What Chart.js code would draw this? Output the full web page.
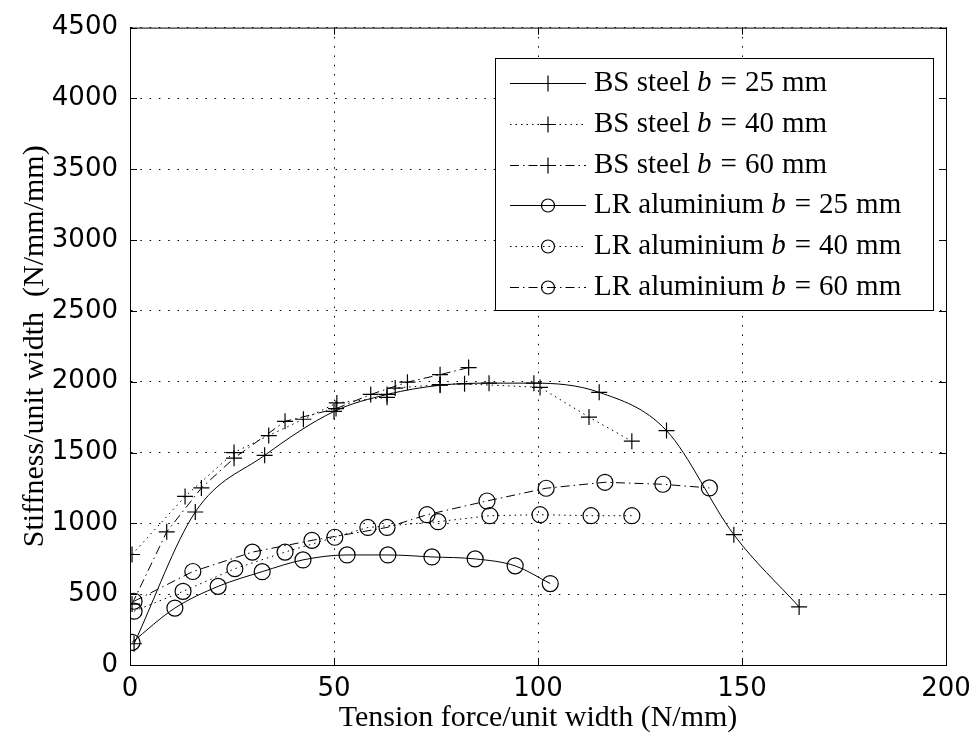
<!DOCTYPE html>
<html>
<head>
<meta charset="utf-8">
<script src="https://cdn.jsdelivr.net/npm/chart.js@4/dist/chart.umd.min.js"></script>
<style>
body { margin: 0; background: #ffffff; }
#wrap { width: 980px; height: 748px; }
</style>
</head>
<body>
<div id="wrap"><canvas id="stiffnessChart" width="980" height="748"></canvas></div>
<script>
// x = tension force per unit width (N/mm), y = stiffness per unit width (N/mm/mm)
const BS25_X = [1, 16, 33, 50, 63, 76, 88, 99, 115, 131.5, 148, 164];
const BS25_Y = [150, 1080, 1480, 1790, 1910, 1975, 1990, 1990, 1925, 1655, 920, 410];

const BS40_X = [0.5, 13.5, 25.5, 34, 42.5, 50.7, 63, 65, 76, 82, 100.5, 112.5, 123];
const BS40_Y = [780, 1190, 1500, 1620, 1735, 1850, 1890, 1955, 1980, 1985, 1960, 1750, 1580];

const BS60_X = [0.5, 9, 17.5, 25.5, 38, 50.5, 59, 68, 76, 83];
const BS60_Y = [430, 940, 1250, 1460, 1720, 1810, 1910, 1997, 2050, 2100];

const LR25_X = [0.5, 11, 21.6, 32.4, 42.4, 53.2, 63.2, 74, 84.6, 94.4, 103];
const LR25_Y = [160, 402, 555, 659, 742, 777, 777, 763, 749, 700, 575];

const LR40_X = [1, 13, 25.7, 38, 50.2, 58.3, 75.5, 88.2, 100.5, 113, 123];
const LR40_Y = [380, 520, 680, 797, 902, 971, 1012, 1054, 1061, 1054, 1054];

const LR60_X = [1, 15.4, 30, 44.6, 63, 72.8, 87.5, 102, 116.4, 130.6, 142];
const LR60_Y = [450, 660, 797, 880, 971, 1061, 1158, 1248, 1290, 1276, 1250];

const X_TICKS = [0, 50, 100, 150, 200];
const Y_TICKS = [0, 500, 1000, 1500, 2000, 2500, 3000, 3500, 4000, 4500];

const LEGEND_NAMES = ["BS steel", "BS steel", "BS steel", "LR aluminium", "LR aluminium", "LR aluminium"];
const LEGEND_WIDTHS = ["25", "40", "60", "25", "40", "60"];

const SOLID = [];
const DOTTED = [1.5, 4];
const DASHDOT = [9, 4, 1.5, 4];

function toPoints(xs, ys)
{
    return xs.map((x, i) => ({ x: x, y: ys[i] }));
}

function makeSet(label, xs, ys, marker, dash, smooth)
{
    return {
        label: label,
        data: toPoints(xs, ys),
        borderColor: '#000000',
        backgroundColor: 'rgba(0,0,0,0)',
        borderWidth: 1,
        borderDash: dash,
        pointStyle: marker,
        pointRadius: 8,
        pointBorderWidth: 1.2,
        pointBorderColor: '#000000',
        pointBackgroundColor: 'rgba(0,0,0,0)',
        cubicInterpolationMode: smooth ? 'monotone' : 'default',
        tension: 0,
        fill: false
    };
}

const datasets = [
    makeSet("BS steel b = 25 mm", BS25_X, BS25_Y, 'cross', SOLID, true),
    makeSet("BS steel b = 40 mm", BS40_X, BS40_Y, 'cross', DOTTED, false),
    makeSet("BS steel b = 60 mm", BS60_X, BS60_Y, 'cross', DASHDOT, false),
    makeSet("LR aluminium b = 25 mm", LR25_X, LR25_Y, 'circle', SOLID, true),
    makeSet("LR aluminium b = 40 mm", LR40_X, LR40_Y, 'circle', DOTTED, false),
    makeSet("LR aluminium b = 60 mm", LR60_X, LR60_Y, 'circle', DASHDOT, false)
];

const whiteBackground = {
    id: 'whiteBackground',
    beforeDraw(chart)
    {
        const ctx = chart.ctx;
        ctx.save();
        ctx.fillStyle = '#ffffff';
        ctx.fillRect(0, 0, chart.width, chart.height);
        ctx.restore();
    }
};

// solid box round the plot with inward ticks on all four sides
const boxAndTicks = {
    id: 'boxAndTicks',
    beforeDatasetsDraw(chart)
    {
        const ctx = chart.ctx;
        const a = chart.chartArea;
        const xs = chart.scales.x;
        const ys = chart.scales.y;
        const len = 7;
        ctx.save();
        ctx.strokeStyle = '#000000';
        ctx.lineWidth = 1;
        ctx.setLineDash([]);
        ctx.strokeRect(a.left + 0.5, a.top + 0.5, a.right - a.left, a.bottom - a.top);
        ctx.beginPath();
        for (const t of X_TICKS)
        {
            const px = Math.round(xs.getPixelForValue(t)) + 0.5;
            ctx.moveTo(px, a.bottom);
            ctx.lineTo(px, a.bottom - len);
            ctx.moveTo(px, a.top);
            ctx.lineTo(px, a.top + len);
        }
        for (const t of Y_TICKS)
        {
            const py = Math.round(ys.getPixelForValue(t)) + 0.5;
            ctx.moveTo(a.left, py);
            ctx.lineTo(a.left + len, py);
            ctx.moveTo(a.right, py);
            ctx.lineTo(a.right - len, py);
        }
        ctx.stroke();
        ctx.restore();
    }
};

// legend box in the top right of the plot, with an italic b
const innerLegend = {
    id: 'innerLegend',
    afterDraw(chart)
    {
        const ctx = chart.ctx;
        const left = 495, top = 58, right = 933, bottom = 310;
        const rowTop = 83, rowStep = 40.8;
        const plain = '29px "Liberation Serif"';
        const italic = 'italic 29px "Liberation Serif"';
        ctx.save();
        ctx.fillStyle = '#ffffff';
        ctx.fillRect(left, top, right - left, bottom - top);
        ctx.strokeStyle = '#000000';
        ctx.lineWidth = 1;
        ctx.strokeRect(left + 0.5, top + 0.5, right - left, bottom - top);

        chart.data.datasets.forEach((ds, i) =>
        {
            const y = Math.round(rowTop + i * rowStep) + 0.5;
            ctx.save();
            ctx.strokeStyle = '#000000';
            ctx.lineWidth = 1;
            ctx.setLineDash(ds.borderDash);
            ctx.beginPath();
            ctx.moveTo(510, y);
            ctx.lineTo(586, y);
            ctx.stroke();
            ctx.restore();

            ctx.save();
            ctx.fillStyle = 'rgba(0,0,0,0)';
            ctx.strokeStyle = '#000000';
            ctx.lineWidth = 1.2;
            Chart.helpers.drawPoint(ctx, {
                pointStyle: ds.pointStyle,
                radius: ds.pointStyle == 'circle' ? 6.5 : 8,
                borderWidth: 1.2
            }, 548, y);
            ctx.restore();

            ctx.fillStyle = '#000000';
            ctx.textBaseline = 'middle';
            ctx.textAlign = 'left';
            let x = 594;
            ctx.font = plain;
            const head = LEGEND_NAMES[i] + ' ';
            ctx.fillText(head, x, y);
            x += ctx.measureText(head).width;
            ctx.font = italic;
            ctx.fillText('b', x, y);
            x += ctx.measureText('b').width + 9;
            ctx.font = plain;
            ctx.fillText('=', x, y);
            x += ctx.measureText('=').width + 8;
            ctx.fillText(LEGEND_WIDTHS[i], x, y);
            x += ctx.measureText(LEGEND_WIDTHS[i]).width + 8;
            ctx.fillText('mm', x, y);
        });
        ctx.restore();
    }
};

const tickFont = { family: '"DejaVu Sans"', size: 26 };
const titleFont = { family: '"Liberation Serif"', size: 30 };

new Chart(document.getElementById("stiffnessChart"), {
    type: 'line',
    data: { datasets: datasets },
    options: {
        responsive: false,
        animation: false,
        layout: { padding: { left: 0, right: 34, top: 17, bottom: 0 } },
        plugins: {
            legend: { display: false },
            tooltip: { enabled: false }
        },
        scales: {
            x: {
                type: 'linear',
                min: 0,
                max: 200,
                afterFit: (scale) => { scale.height = 83; },
                afterBuildTicks: (scale) => { scale.ticks = X_TICKS.map(v => ({ value: v })); },
                ticks: { font: tickFont, color: '#000000', padding: 9, maxRotation: 0, callback: (v) => String(v) },
                grid: { color: '#000000', lineWidth: 1, drawTicks: false },
                border: { display: true, color: '#000000', width: 1, dash: [1.5, 7.8] },
                title: {
                    display: true,
                    text: 'Tension force/unit width (N/mm)',
                    font: titleFont,
                    color: '#000000',
                    padding: { top: 0, bottom: 12 }
                }
            },
            y: {
                type: 'linear',
                min: 0,
                max: 4500,
                afterFit: (scale) => { scale.width = 130; },
                afterBuildTicks: (scale) => { scale.ticks = Y_TICKS.map(v => ({ value: v })); },
                ticks: { font: tickFont, color: '#000000', padding: 12, callback: (v) => String(v) },
                grid: { color: '#000000', lineWidth: 1, drawTicks: false },
                border: { display: true, color: '#000000', width: 1, dash: [1.5, 7.8] },
                title: {
                    display: true,
                    text: 'Stiffness/unit width  (N/mm/mm)',
                    font: titleFont,
                    color: '#000000',
                    padding: { top: 17, bottom: 0 }
                }
            }
        }
    },
    plugins: [whiteBackground, boxAndTicks, innerLegend]
});
</script>
</body>
</html>
